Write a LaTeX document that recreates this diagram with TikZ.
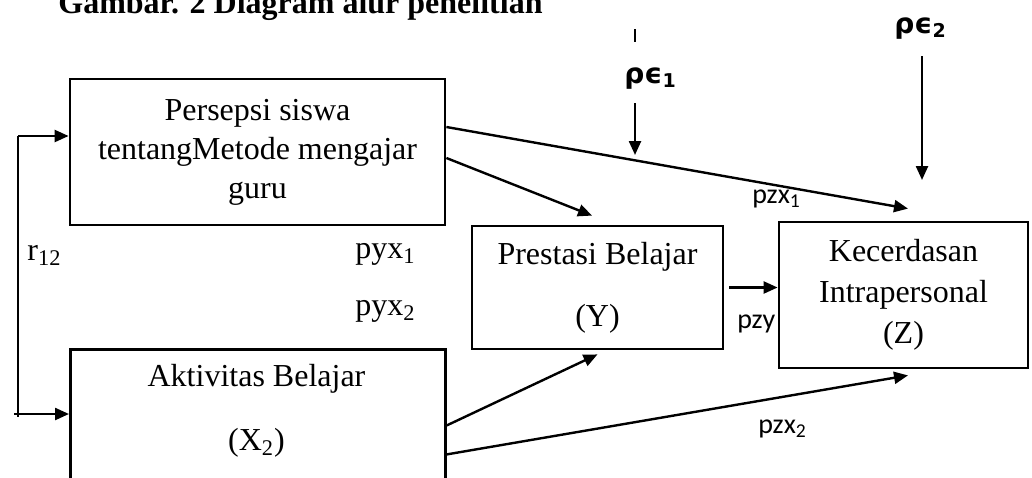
\documentclass[tikz,border=0pt]{standalone}
\usepackage{amsmath,amssymb}
\usepackage{fontspec}
\setmainfont{Liberation Serif}
\newfontfamily\lblfont{Carlito}
\newfontfamily\errfont{DejaVu Sans}
\usepackage{tikz}
\usetikzlibrary{calc,arrows.meta,positioning}
\newcommand{\errterm}[1]{ρϵ\raisebox{-0.3ex}{\fontsize{9.5}{10}\selectfont #1}}

\begin{document}
\begin{tikzpicture}[
  x=0.5pt,y=-0.5pt,>=Stealth,
  every node/.style={font=\fontsize{16}{19.5}\selectfont},
  box/.style={draw,line width=1.4pt,inner sep=0pt,align=center},
  arr/.style={-{Triangle[length=7pt,width=6pt]},line width=1.2pt},
  plain/.style={line width=1.2pt},
  coef/.style={anchor=base west,inner sep=0pt},
  path/.style={anchor=base west,inner sep=0pt,font=\lblfont\fontsize{14}{16}\selectfont},
  err/.style={anchor=base west,inner sep=0pt,font=\errfont\bfseries\fontsize{14}{16}\selectfont}
]
  \useasboundingbox (0,0) rectangle (1032,477);
  \clip (0,0) rectangle (1032,477);

  % Title (cut at the top edge)
  \node[coef,font=\bfseries\fontsize{16}{19.5}\selectfont] (title) at (58,13) {Gambar. 2 Diagram alur penelitian};

  % Variables
  \node[box,minimum width=187.5pt,minimum height=73pt] (persepsi) at (257.5,152) {Persepsi siswa\\tentangMetode mengajar\\guru};
  \node[box,minimum width=187.5pt,minimum height=86pt,anchor=north west] (aktivitas) at (69,348) {};
  \node[align=center,inner sep=0pt] (aktivitas-txt) at (256.5,411) {Aktivitas Belajar\\[12.5pt](X\textsubscript{2})};
  \node[box,minimum width=125.5pt,minimum height=61.5pt] (prestasi) at (597.5,287.5) {Prestasi Belajar\\[11.5pt](Y)};
  \node[box,minimum width=124.5pt,minimum height=73pt] (kecerdasan) at (903.5,295) {Kecerdasan\\[1pt]Intrapersonal\\[1pt](Z)};

  % Residual terms
  \node[err] (e1) at (624,83) {\errterm{1}};
  \node[err] (e2) at (894,33) {\errterm{2}};
  \coordinate (e1tick) at (635,29);
  \coordinate (e1top) at (635,103);
  \coordinate (e1tip) at (635,155);
  \coordinate (e2top) at (922,56);
  \coordinate (e2tip) at (922,180);
  \draw[plain] (e1tick) -- ++(0,13);
  \draw[arr] (e1top) -- (e1tip);
  \draw[arr] (e2top) -- (e2tip);

  % Correlation X1 -- X2
  \coordinate (lt) at (18,136);
  \coordinate (lb) at (18,414);
  \draw[plain] (lt) -- ([yshift=-1.5pt]lb);
  \draw[arr] (lt) -- (lt -| persepsi.west);
  \draw[arr] ([xshift=-2pt]lb) -- (lb -| aktivitas.west);
  \node[coef] (r12) at (27,260) {r\textsubscript{12}};

  % Paths
  \draw[arr] ([yshift=12.5pt]persepsi.east) -- ([xshift=2.25pt,yshift=6pt]kecerdasan.north);
  \draw[arr] ([yshift=-3pt]persepsi.east) -- ([xshift=-2.75pt,yshift=4.5pt]prestasi.north);
  \draw[arr] ([yshift=5pt]aktivitas.east) -- ([yshift=-2pt]prestasi.south);
  \draw[arr] ([yshift=-9.5pt]aktivitas.east) -- ([xshift=2.25pt,yshift=-3pt]kecerdasan.south);
  \draw[arr] ([xshift=2.5pt]prestasi.east) -- (prestasi.east -| kecerdasan.west);

  % Path coefficients
  \node[coef] (pyx1) at (355,258) {pyx\textsubscript{1}};
  \node[coef] (pyx2) at (355,315) {pyx\textsubscript{2}};
  \node[path] (pzx1) at (752,203) {pzx\textsubscript{1}};
  \node[path] (pzy) at (737,328) {pzy};
  \node[path] (pzx2) at (758,433) {pzx\textsubscript{2}};
\end{tikzpicture}
\end{document}
